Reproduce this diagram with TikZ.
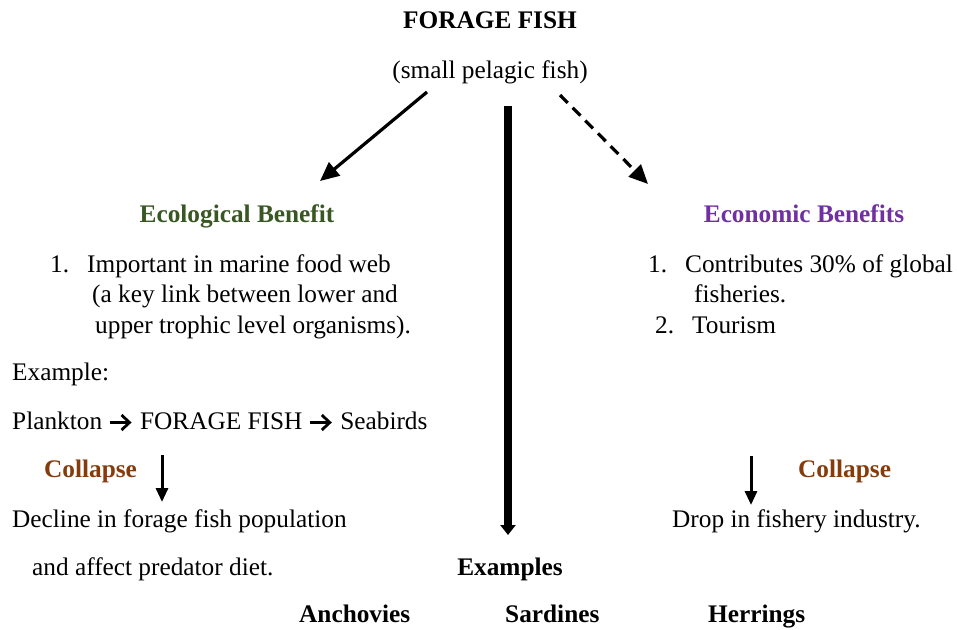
\documentclass[tikz,border=0pt]{standalone}
\usepackage{fontspec}
\setmainfont{Liberation Serif}
\usetikzlibrary{arrows.meta}
\definecolor{ecogreen}{RGB}{56,87,35}
\definecolor{econpurple}{RGB}{112,48,160}
\definecolor{collbrown}{RGB}{132,60,12}
\tikzset{
  txt/.style={inner sep=0pt, font=\fontsize{25.3}{28}\selectfont, anchor=base west},
  ctxt/.style={inner sep=0pt, font=\fontsize{25.3}{28}\selectfont, anchor=base},
  bld/.style={inner sep=0pt, font=\fontsize{25.3}{28}\selectfont\bfseries, anchor=base},
  bldw/.style={bld, anchor=base west},
  arr/.style={line width=3.2pt, -{Triangle[length=19pt,width=17pt]}},
  downarr/.style={line width=3pt, -{Triangle[length=14pt,width=12pt]}},
}
\newsavebox{\chainarrow}
\sbox{\chainarrow}{\tikz[baseline=-6.5pt]{\draw[line width=2.8pt, -{Straight Barb[length=8pt,width=15pt,line width=2.8pt]}] (0,0) -- (22pt,0);}}
\newcommand{\farr}{\hspace{6pt}\usebox{\chainarrow}\hspace{7pt}}
\begin{document}
\begin{tikzpicture}[x=1pt,y=-1pt]
\useasboundingbox (0,0) rectangle (957,629);
\node[bld] (title) at (490,28) {FORAGE FISH};
\node[ctxt] (sub) at (490,78) {(small pelagic fish)};
\coordinate (la) at (427,92);
\coordinate (lb) at (320,181);
\draw[arr] (la) -- (lb);
\coordinate (ma) at (508,106);
\coordinate (mb) at (508,535);
\draw[line width=8pt, -{Triangle[length=10pt,width=15pt]}] (ma) -- (mb);
\coordinate (ra) at (560,95);
\coordinate (rb) at (648,184);
\draw[arr, dash pattern=on 11pt off 7pt] (ra) -- (rb);

\node[bld, text=ecogreen] (eco) at (237,222) {Ecological Benefit};
\node[bld, text=econpurple] (econ) at (804,222) {Economic Benefits};

\node[txt] (e1) at (50,272) {1.\hspace{18pt}Important in marine food web};
\node[txt] (e2) at (92,302) {(a key link between lower and};
\node[txt] (e3) at (95,333) {upper trophic level organisms).};
\node[txt] (ex) at (12,380) {Example:};
\node[txt] (chain) at (12,429) {Plankton\farr FORAGE FISH\farr Seabirds};
\node[bldw, text=collbrown] (c1) at (44,477) {Collapse};
\coordinate (d1a) at (162,455);
\coordinate (d1b) at (162,502);
\draw[downarr] (d1a) -- (d1b);
\node[txt] (dec1) at (12,527) {Decline in forage fish population};
\node[txt] (dec2) at (32,575) {and affect predator diet.};

\node[txt] (r1) at (648,272) {1.\hspace{18pt}Contributes 30\% of global};
\node[txt] (r2) at (694,302) {fisheries.};
\node[txt] (r3) at (655,333) {2.\hspace{18pt}Tourism};
\coordinate (d2a) at (751,456);
\coordinate (d2b) at (751,505);
\draw[downarr] (d2a) -- (d2b);
\node[bldw, text=collbrown] (c2) at (798,477) {Collapse};
\node[txt] (drop) at (672,527) {Drop in fishery industry.};

\node[bld] (exs) at (510,575) {Examples};
\node[bldw] (anc) at (299,622) {Anchovies};
\node[bldw] (sar) at (505,622) {Sardines};
\node[bldw] (her) at (708,622) {Herrings};
\end{tikzpicture}
\end{document}
